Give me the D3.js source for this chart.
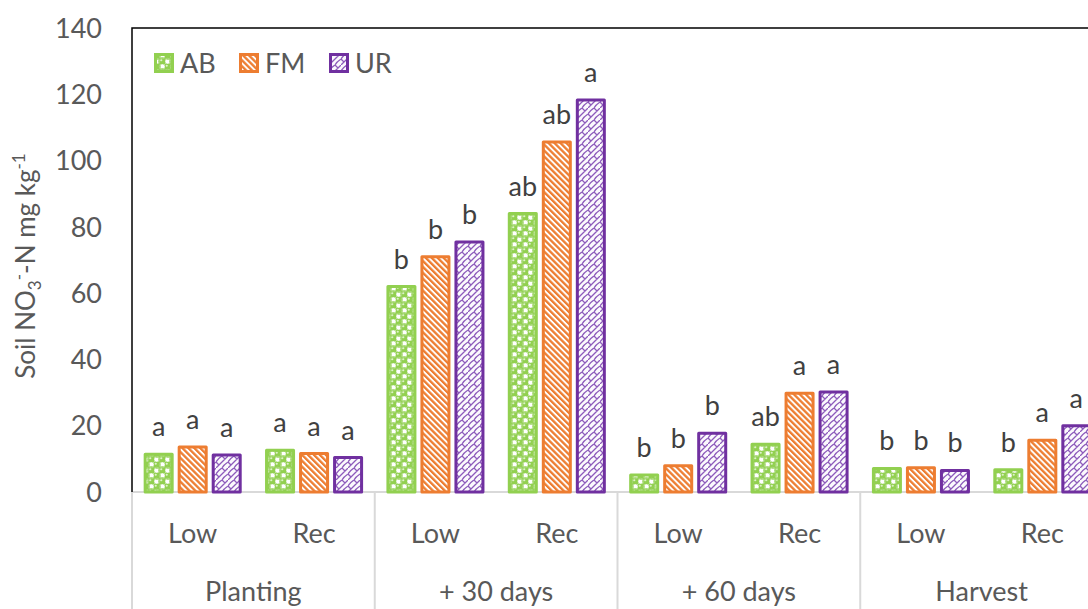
<!DOCTYPE html>
<html>
<head>
<meta charset="utf-8">
<script src="https://cdn.jsdelivr.net/npm/d3@7"></script>
<style>
  html, body { margin: 0; padding: 0; background: #fff; overflow: hidden; }
  svg { display: block; font-family: Lato, "Open Sans", sans-serif; }
</style>
</head>
<body>
<svg id="chart"></svg>
<script>
const width = 1088;
const height = 609;

// chart data
const groups = ["Planting", "+ 30 days", "+ 60 days", "Harvest"];
const levels = ["Low", "Rec"];
const series = ["AB", "FM", "UR"];
const seriesColors = ["#92D050", "#ED7D31", "#7030A0"];

// values per series, in order Planting Low, Planting Rec, +30 Low, +30 Rec, ...
const abValues = [11.4, 12.6, 62.0, 84.0, 5.1, 14.4, 7.1, 6.7];
const fmValues = [13.6, 11.6, 71.0, 105.6, 7.9, 29.8, 7.3, 15.6];
const urValues = [11.2, 10.4, 75.4, 118.3, 17.7, 30.2, 6.5, 20.0];

const abLetters = ["a", "a", "b", "ab", "b", "ab", "b", "b"];
const fmLetters = ["a", "a", "b", "ab", "b", "a", "b", "a"];
const urLetters = ["a", "a", "b", "a", "b", "a", "b", "a"];

const yTicks = [0, 20, 40, 60, 80, 100, 120, 140];

const valuesBySeries = [abValues, fmValues, urValues];
const lettersBySeries = [abLetters, fmLetters, urLetters];

const rows = [];
groups.forEach((g, gi) => {
  levels.forEach((l, li) => {
    const idx = gi * levels.length + li;
    series.forEach((s, si) => {
      rows.push({ group: g, level: l, series: s, si,
        value: valuesBySeries[si][idx], letter: lettersBySeries[si][idx] });
    });
  });
});

const plotLeft = 132;
const plotTop = 28;
const plotBottom = 492;
const groupWidth = 242.75;

const svg = d3.select("#chart").attr("width", width).attr("height", height);

const defs = svg.append("defs");

// sphere-ish pattern for AB
const pAB = defs.append("pattern").attr("id", "pat-AB")
  .attr("patternUnits", "userSpaceOnUse").attr("width", 11).attr("height", 11);
pAB.append("rect").attr("width", 11).attr("height", 11).attr("fill", "#fff");
[[2.75, 2.75], [8.25, 8.25]].forEach(([cx, cy]) => {
  pAB.append("circle").attr("cx", cx).attr("cy", cy).attr("r", 3.9).attr("fill", "#92D050");
  pAB.append("circle").attr("cx", cx - 1).attr("cy", cy - 1).attr("r", 1.1).attr("fill", "#dcf2c6");
});
[[8.25, 2.75], [2.75, 8.25]].forEach(([cx, cy]) => {
  pAB.append("circle").attr("cx", cx).attr("cy", cy).attr("r", 3)
    .attr("fill", "none").attr("stroke", "#a9d97a").attr("stroke-width", 1);
});

// wide downward diagonal for FM
const pFM = defs.append("pattern").attr("id", "pat-FM")
  .attr("patternUnits", "userSpaceOnUse").attr("width", 4.2).attr("height", 10)
  .attr("patternTransform", "rotate(-45)");
pFM.append("rect").attr("width", 4.2).attr("height", 10).attr("fill", "#fff");
pFM.append("rect").attr("width", 2.3).attr("height", 10).attr("fill", "#ED7D31");

// shingle-like pattern for UR
const pUR = defs.append("pattern").attr("id", "pat-UR")
  .attr("patternUnits", "userSpaceOnUse").attr("width", 12).attr("height", 12);
pUR.append("rect").attr("width", 12).attr("height", 12).attr("fill", "#fbf9fd");
pUR.append("path")
  .attr("d", "M0,12 L12,0 M0,6 L3,9 M6,0 L9,3 M6,12 C7,10 9,8 12,6 M0,6 C1,4 3,2 6,0")
  .attr("fill", "none").attr("stroke", "#8d5bbb").attr("stroke-width", 1.3);

const x0 = d3.scaleBand().domain(groups)
  .range([plotLeft, plotLeft + groupWidth * groups.length]);
const x1 = d3.scaleBand().domain(levels).range([0, x0.bandwidth()]);
const x2 = d3.scaleBand().domain(series).range([0, x1.bandwidth()])
  .paddingInner(4 / 34).paddingOuter(0.343);

const y = d3.scaleLinear().domain([0, 140]).range([plotBottom, plotTop]);

// y axis labels
svg.append("g")
  .selectAll("text")
  .data(yTicks)
  .join("text")
  .attr("x", 102)
  .attr("y", (d) => y(d))
  .attr("dy", "0.36em")
  .attr("text-anchor", "end")
  .attr("font-size", 27)
  .attr("fill", "#595959")
  .text((d) => d);

// y axis title
const yTitle = svg.append("text")
  .attr("transform", `translate(35, 266) rotate(-90)`)
  .attr("text-anchor", "middle")
  .attr("font-size", 26)
  .attr("fill", "#595959");
yTitle.append("tspan").text("Soil NO");
yTitle.append("tspan").attr("font-size", 17).attr("dy", 6).text("3");
yTitle.append("tspan").attr("font-size", 17).attr("dy", -16).text("-");
yTitle.append("tspan").attr("dy", 10).text("-N mg kg");
yTitle.append("tspan").attr("font-size", 17).attr("dy", -10).text("-1");

// category axis line and separators
svg.append("line")
  .attr("x1", plotLeft).attr("x2", width)
  .attr("y1", plotBottom).attr("y2", plotBottom)
  .attr("stroke", "#d9d9d9").attr("stroke-width", 2);

svg.append("g")
  .selectAll("line")
  .data(groups)
  .join("line")
  .attr("x1", (d) => x0(d)).attr("x2", (d) => x0(d))
  .attr("y1", plotBottom).attr("y2", height)
  .attr("stroke", "#d9d9d9").attr("stroke-width", 2);

// bars
const bars = svg.append("g");
bars.selectAll("rect")
  .data(rows)
  .join("rect")
  .attr("x", (d) => x0(d.group) + x1(d.level) + x2(d.series) + 1.5)
  .attr("y", (d) => y(d.value))
  .attr("width", x2.bandwidth() - 3)
  .attr("height", (d) => y(0) - y(d.value))
  .attr("fill", (d) => `url(#pat-${d.series})`)
  .attr("stroke", (d) => seriesColors[d.si])
  .attr("stroke-width", 3)
  .attr("stroke-linejoin", "round");

// significance letters
svg.append("g")
  .selectAll("text")
  .data(rows)
  .join("text")
  .attr("x", (d) => x0(d.group) + x1(d.level) + x2(d.series) + x2.bandwidth() / 2)
  .attr("y", (d) => y(d.value) - 18)
  .attr("text-anchor", "middle")
  .attr("font-size", 27)
  .attr("fill", "#404040")
  .text((d) => d.letter);

// plot area border (left and top visible)
svg.append("path")
  .attr("d", `M${plotLeft},${plotBottom} V${plotTop} H${width + 5}`)
  .attr("fill", "none").attr("stroke", "#000").attr("stroke-width", 1.5);

// level labels
const levelRows = groups.flatMap((g) => levels.map((l) => ({ g, l })));
svg.append("g")
  .selectAll("text")
  .data(levelRows)
  .join("text")
  .attr("x", (d) => x0(d.g) + x1(d.l) + x1.bandwidth() / 2)
  .attr("y", 543)
  .attr("text-anchor", "middle")
  .attr("font-size", 27)
  .attr("fill", "#595959")
  .text((d) => d.l);

// group labels
svg.append("g")
  .selectAll("text")
  .data(groups)
  .join("text")
  .attr("x", (d) => x0(d) + x0.bandwidth() / 2)
  .attr("y", 601)
  .attr("text-anchor", "middle")
  .attr("font-size", 27)
  .attr("fill", "#595959")
  .text((d) => d);

// legend
const legendX = [154, 239, 329];
const legend = svg.append("g")
  .selectAll("g")
  .data(series)
  .join("g")
  .attr("transform", (d, i) => `translate(${legendX[i]}, 53)`);
legend.append("rect")
  .attr("x", 1.5).attr("y", 1.5)
  .attr("width", 17).attr("height", 17)
  .attr("fill", (d) => `url(#pat-${d})`)
  .attr("stroke", (d, i) => seriesColors[i])
  .attr("stroke-width", 3);
legend.append("text")
  .attr("x", 26)
  .attr("y", 10)
  .attr("dy", "0.36em")
  .attr("font-size", 27)
  .attr("fill", "#595959")
  .text((d) => d);
</script>
</body>
</html>
